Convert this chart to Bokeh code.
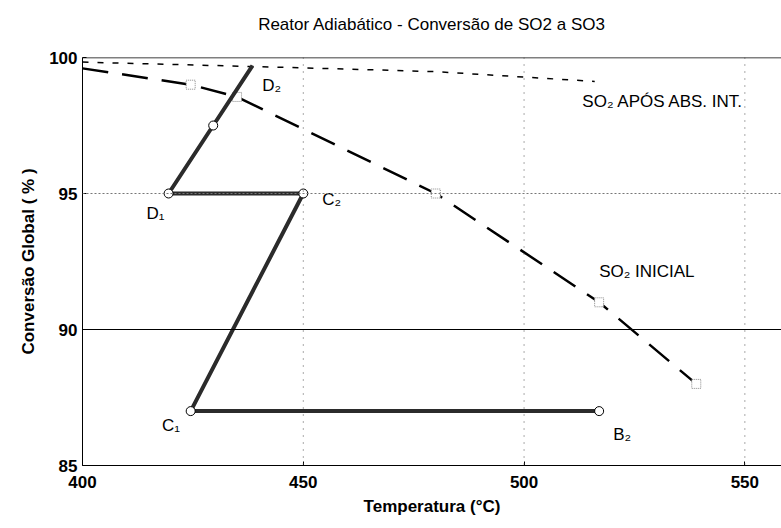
from bokeh.plotting import figure
from bokeh.models import Span, FixedTicker
from bokeh.core.properties import value
from bokeh.embed import file_html
from bokeh.resources import INLINE

title_text = "Reator Adiabático - Conversão de SO2 a SO3"
x_label = "Temperatura (°C)"
y_label = "Conversão Global ( % )"
x_ticks = [400, 450, 500, 550]
y_ticks = [85, 90, 95, 100]

# adiabatic path: B2 -> C1 -> C2 -> D1 -> (mid) -> D2
path_T = [517, 424.5, 450, 419.5, 429.6, 438.5]
path_X = [87, 87, 95, 95, 97.5, 99.7]
pt_T = [517, 424.5, 450, 419.5, 429.6]
pt_X = [87, 87, 95, 95, 97.5]

# SO2 inicial (equilibrium curve, long dashes)
ini_T = [400, 424.5, 435, 480, 517, 539]
ini_X = [99.6, 99.0, 98.55, 95.0, 91.0, 88.0]
ini_mark_T = [424.5, 435, 480, 517, 539]
ini_mark_X = [99.0, 98.55, 95.0, 91.0, 88.0]

# SO2 apos absorcao intermediaria (short dashes)
abs_T = [400, 450, 480, 516]
abs_X = [99.83, 99.62, 99.48, 99.12]

lbl_text = ["D₂", "D₁", "C₂", "C₁", "B₂", "SO₂ APÓS ABS. INT.", "SO₂ INICIAL"]
lbl_T = [440.7, 414.5, 454.3, 418.0, 520.2, 513.2, 517.0]
lbl_X = [98.97, 94.26, 94.78, 86.47, 86.14, 98.38, 92.13]

FONT = "Liberation Sans"

p = figure(width=781, height=528, x_range=(400, 558.3), y_range=(85, 100),
           output_backend="svg", toolbar_location=None,
           min_border_left=82, min_border_right=0, min_border_top=57, min_border_bottom=63,
           title=title_text + "\n")
p.title.text_font = FONT
p.title.text_font_size = "17px"
p.title.text_font_style = "normal"
p.title.text_color = "black"
p.title.align = "center"
p.title.standoff = 10

p.outline_line_color = None
p.xgrid.visible = False
p.ygrid.visible = False

for loc in [450, 500, 550]:
    p.add_layout(Span(location=loc, dimension="height", line_color="#555555",
                      line_width=1, line_dash="1 6"))
p.add_layout(Span(location=95, dimension="width", line_color="#777777", line_width=1, line_dash="2 2"))
p.add_layout(Span(location=90, dimension="width", line_color="black", line_width=1))
p.add_layout(Span(location=100, dimension="width", line_color="black", line_width=1.5))

p.line(abs_T, abs_X, line_color="black", line_width=1.5, line_dash="6 9")
p.line(ini_T, ini_X, line_color="black", line_width=2.5, line_dash="26 14")
p.scatter(ini_mark_T, ini_mark_X, marker="square", size=9, fill_color="white",
          line_color="#888888", line_width=1, line_dash="1 1")

p.line(path_T, path_X, line_color="#2b2b2b", line_width=4)
p.scatter(pt_T, pt_X, marker="circle", size=9, fill_color="white", line_color="black", line_width=1)

p.text(lbl_T, lbl_X, text=lbl_text, text_font=value(FONT), text_font_size="17px",
       text_align="left", text_baseline="middle", text_color="black")

for ax in (p.xaxis, p.yaxis):
    ax.axis_line_color = "black"
    ax.axis_line_width = 1
    ax.major_tick_in = 4
    ax.major_tick_out = 0
    ax.major_tick_line_color = "black"
    ax.minor_tick_line_color = None
    ax.major_label_text_font = FONT
    ax.major_label_text_font_size = "17px"
    ax.major_label_text_font_style = "bold"
    ax.major_label_text_color = "black"
    ax.axis_label_text_font = FONT
    ax.axis_label_text_font_size = "17px"
    ax.axis_label_text_font_style = "bold"
    ax.axis_label_text_color = "black"

p.xaxis.ticker = FixedTicker(ticks=x_ticks)
p.yaxis.ticker = FixedTicker(ticks=y_ticks)
p.xaxis.axis_label = x_label
p.yaxis.axis_label = y_label
p.xaxis.major_label_standoff = 10
p.yaxis.major_label_standoff = 5
p.xaxis.axis_label_standoff = 6
p.yaxis.axis_label_standoff = 8

open("out.html", "w").write(file_html(p, INLINE))
